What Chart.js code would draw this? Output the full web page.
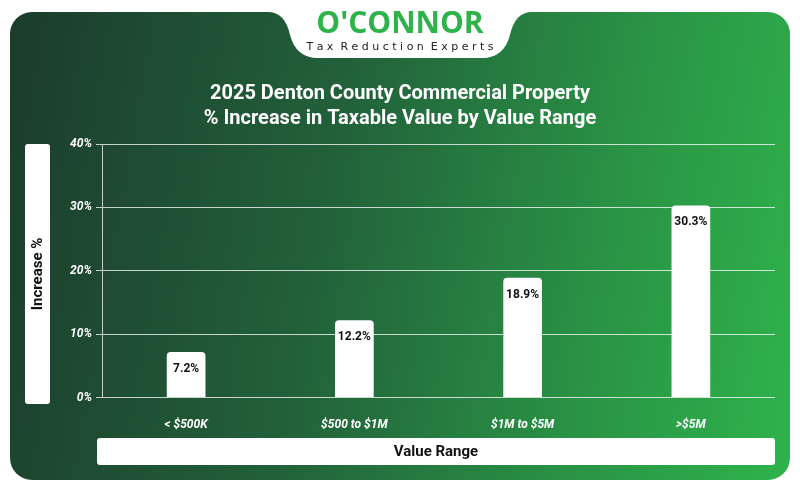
<!DOCTYPE html>
<html lang="en">
<head>
<meta charset="UTF-8">
<title>2025 Denton County Commercial Property</title>
<script src="https://cdn.jsdelivr.net/npm/chart.js"></script>
<style>
  body { margin: 0; background: #fff; }
  #wrap { position: relative; width: 800px; height: 492px; }
  #card { position: absolute; left: 10px; top: 12px; width: 780px; height: 468px; border-radius: 22px;
    background: linear-gradient(100deg, #1b3c2b 0%, #22603a 40%, #2a9445 75%, #2fb34c 100%); }
  canvas { position: absolute; left: 0; top: 0; }
</style>
</head>
<body>
<div id="wrap">
  <div id="card"></div>
  <canvas id="chart" width="800" height="492"></canvas>
</div>
<script>
const categories = ['< $500K', '$500 to $1M', '$1M to $5M', '>$5M'];
const increase = [7.2, 12.2, 18.9, 30.3];
const yTicks = [0, 10, 20, 30, 40];

const decor = {
  id: 'decor',
  beforeDraw(chart) {
    const c = chart.ctx;
    c.save();
    // logo tab
    c.fillStyle = '#fff';
    c.beginPath();
    c.moveTo(268, 12);
    c.quadraticCurveTo(285, 12, 290, 35);
    c.quadraticCurveTo(296, 58, 318, 58);
    c.lineTo(482, 58);
    c.quadraticCurveTo(504, 58, 510, 35);
    c.quadraticCurveTo(515, 12, 532, 12);
    c.lineTo(532, 0); c.lineTo(268, 0);
    c.closePath(); c.fill();
    c.textAlign = 'center';
    c.fillStyle = '#2eb34b';
    c.font = 'bold 30px "Open Sans", sans-serif';
    c.fillText("O'CONNOR", 400, 33);
    c.fillStyle = '#222';
    c.font = '11px "DejaVu Sans", sans-serif';
    c.fillText('T a x  R e d u c t i o n  E x p e r t s', 400, 50);
    // title
    c.fillStyle = '#fff';
    c.font = 'bold 20px Roboto, sans-serif';
    c.fillText('2025 Denton County Commercial Property', 400, 99);
    c.fillText('% Increase in Taxable Value by Value Range', 400, 124);
    // y title box
    c.beginPath(); c.roundRect(25, 144, 25, 260, 3); c.fill();
    c.save(); c.translate(38, 274); c.rotate(-Math.PI / 2);
    c.fillStyle = '#111'; c.font = 'bold 15px Roboto, sans-serif';
    c.textBaseline = 'middle'; c.fillText('Increase %', 0, 0);
    c.restore();
    // x title box
    c.fillStyle = '#fff';
    c.beginPath(); c.roundRect(97, 438, 678, 27, 3); c.fill();
    c.fillStyle = '#111'; c.font = 'bold 15px Roboto, sans-serif';
    c.textBaseline = 'middle'; c.fillText('Value Range', 436, 452);
    c.restore();
  },
  afterDatasetsDraw(chart) {
    const c = chart.ctx;
    const meta = chart.getDatasetMeta(0);
    c.save();
    c.fillStyle = '#111';
    c.font = 'bold 12px Roboto, sans-serif';
    c.textAlign = 'center';
    meta.data.forEach((bar, i) => {
      c.fillText(increase[i].toFixed(1) + '%', bar.x, bar.y + 20);
    });
    c.restore();
  }
};

new Chart(document.getElementById('chart'), {
  type: 'bar',
  data: {
    labels: categories,
    datasets: [{
      data: increase,
      backgroundColor: '#fff',
      borderRadius: { topLeft: 4, topRight: 4 },
      borderSkipped: 'bottom',
      categoryPercentage: 1,
      barPercentage: 0.23
    }]
  },
  options: {
    responsive: false,
    animation: false,
    layout: { padding: { left: 0, right: 25, top: 144, bottom: 48 } },
    plugins: { legend: { display: false }, tooltip: { enabled: false } },
    scales: {
      x: {
        grid: { display: false },
        border: { display: false },
        ticks: { color: '#fff', font: { family: 'Roboto', size: 12, style: 'italic', weight: 'bold' }, padding: 12 }
      },
      y: {
        min: 0, max: 40,
        afterFit(s) { s.width = 102; },
        afterBuildTicks(s) { s.ticks = yTicks.map(v => ({ value: v })); },
        grid: { color: 'rgba(255,255,255,0.75)', lineWidth: 1, tickLength: 6 },
        border: { color: 'rgba(255,255,255,0.75)' },
        ticks: {
          color: '#fff', padding: 4,
          font: { family: 'Roboto', size: 12, style: 'italic', weight: 'bold' },
          callback: v => v + '%'
        }
      }
    }
  },
  plugins: [decor]
});
</script>
</body>
</html>
